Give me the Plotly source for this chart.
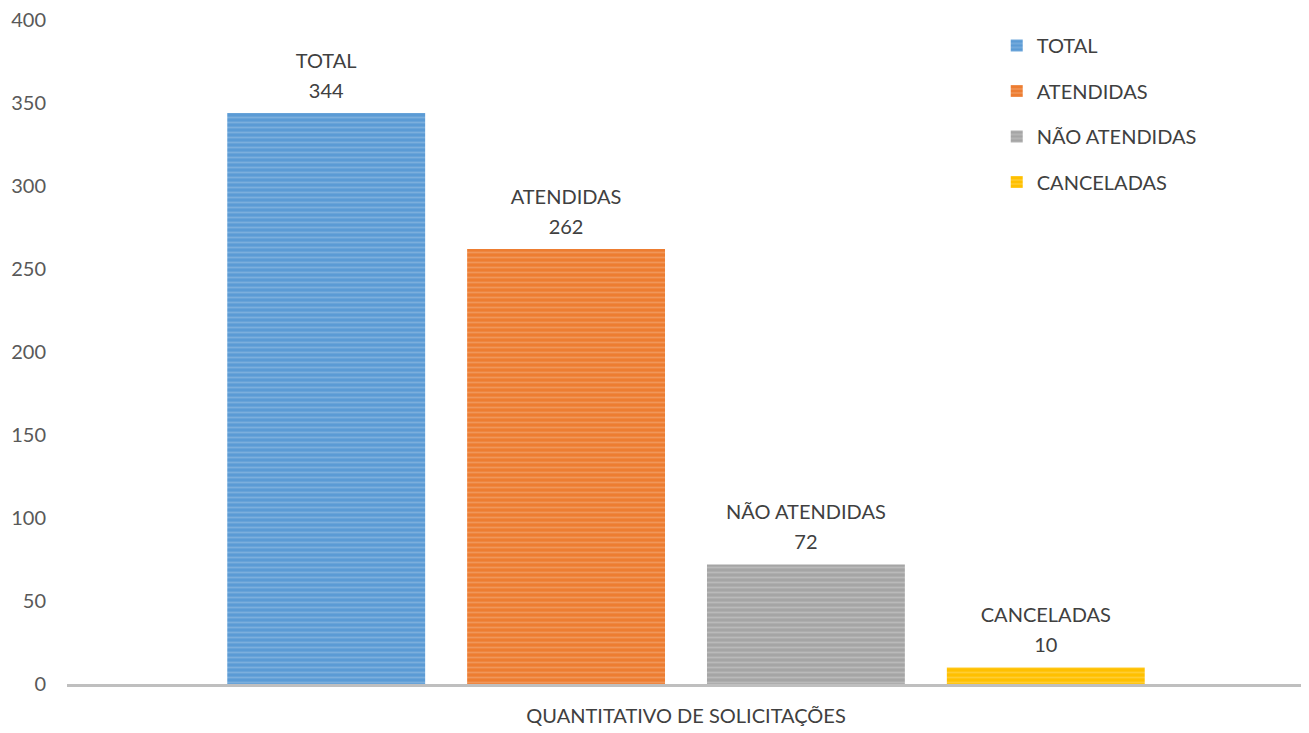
import plotly.graph_objects as go

category = ["QUANTITATIVO DE SOLICITAÇÕES"]
series_names = ["TOTAL", "ATENDIDAS", "NÃO ATENDIDAS", "CANCELADAS"]
series_values = [344, 262, 72, 10]
y_ticks = [0, 50, 100, 150, 200, 250, 300, 350, 400]

colors = ["#5B9BD5", "#ED7D31", "#A5A5A5", "#FFC000"]
light = ["#9DC3E6", "#F4B183", "#D0D0D0", "#FFD966"]

FONT = "Lato, Open Sans, sans-serif"

fig = go.Figure()
for name, val, c, lc in zip(series_names, series_values, colors, light):
    # tiny base font + blank lines -> wider line spacing and a gap above the bar
    label = (f"<span style='font-size:20px'>{name}</span><br><br><br>"
             f"<span style='font-size:20px'>{val}</span><br>&nbsp;")
    fig.add_trace(go.Bar(
        x=category, y=[val], name=name, legendgroup=name,
        text=[label], textposition="outside",
        textfont=dict(size=7.7, color="#404040", family=FONT),
        cliponaxis=False,
        marker=dict(color=c, line=dict(width=0),
                    pattern=dict(shape="-", bgcolor=c, fgcolor=lc,
                                 size=5, solidity=0.35, fillmode="overlay")),
    ))

# page body adds an 8px offset, margins account for it
fig.update_layout(
    width=1309, height=733,
    margin=dict(l=59, r=12, t=12, b=57),
    paper_bgcolor="white", plot_bgcolor="white",
    font=dict(family=FONT, size=20, color="#595959"),
    barmode="group", bargap=0.225, bargroupgap=0.175,
    showlegend=True,
    legend=dict(x=0.751, y=0.991, xanchor="left", yanchor="top",
                font=dict(size=20, color="#404040"), tracegroupgap=16.5,
                itemwidth=30),
)
fig.update_yaxes(range=[0, 400], tickvals=y_ticks, showgrid=False, zeroline=False,
                 showline=False, ticks="", automargin=False, ticklabelstandoff=20,
                 ticklabeloverflow="allow",
                 tickfont=dict(size=20, color="#595959"))
fig.update_xaxes(showline=True, linecolor="#BFBFBF", linewidth=3, ticks="",
                 automargin=False, ticklabelstandoff=12,
                 tickfont=dict(size=20, color="#404040"))

fig.write_html("out.html")
